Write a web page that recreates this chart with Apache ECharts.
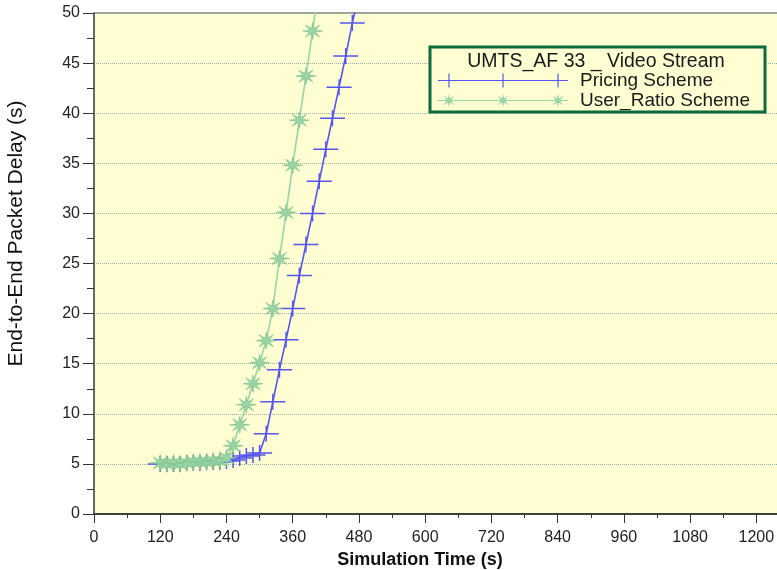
<!DOCTYPE html>
<html>
<head>
<meta charset="utf-8">
<script src="https://cdn.jsdelivr.net/npm/echarts@6/dist/echarts.min.js"></script>
<style>
  html, body { margin: 0; padding: 0; background: #ffffff; }
  #chart { width: 777px; height: 570px; }
</style>
</head>
<body>
<div id="chart"></div>
<script>
// Simulation time (s) and end-to-end packet delay (s) for each scheme
const pricingTime  = [120, 132, 144, 156, 168, 180, 192, 204, 216, 228, 240, 252, 264, 276, 288, 300, 312, 324, 336, 348, 360, 372, 384, 396, 408, 420, 432, 444, 456, 468, 480];
const pricingDelay = [5.0, 5.0, 5.0, 5.0, 5.1, 5.1, 5.1, 5.2, 5.2, 5.2, 5.3, 5.4, 5.6, 5.8, 5.9, 6.1, 8.0, 11.2, 14.4, 17.4, 20.5, 23.8, 26.9, 30.0, 33.2, 36.4, 39.5, 42.6, 45.7, 49.0, 52.0];

const userRatioTime  = [120, 132, 144, 156, 168, 180, 192, 204, 216, 228, 240, 252, 264, 276, 288, 300, 312, 324, 336, 348, 360, 372, 384, 396, 408];
const userRatioDelay = [5.1, 5.0, 5.1, 5.0, 5.1, 5.2, 5.2, 5.2, 5.3, 5.3, 5.6, 6.8, 8.9, 10.9, 13.0, 15.1, 17.3, 20.5, 25.5, 30.1, 34.8, 39.3, 43.7, 48.2, 52.7];

const seriesNames = ['Pricing Scheme', 'User_Ratio Scheme'];
const legendTitle = 'UMTS_AF 33 _ Video Stream';
const xAxisTitle = 'Simulation Time (s)';
const yAxisTitle = 'End-to-End Packet Delay (s)';
const xTickStep = 120;
const yTickStep = 5;

const FONT = '"Liberation Sans", Arial, sans-serif';
const BLUE = '#5656ee';
const GREEN = '#98d4a6';
const PLOT_BG = '#fffdd2';

// Plus marker: wide horizontal bar crossed by a shorter vertical bar
const plusPath = 'path://M0 7.25H25V8.75H0Z M11.75 0H13.25V16H11.75Z';

// Eight-pointed burst marker
function burst(cx, cy, rx, ry, inner) {
  let d = '';
  for (let i = 0; i < 16; i++) {
    const a = i * Math.PI / 8;
    const r = i % 2 === 0 ? 1 : inner;
    const x = cx + Math.cos(a) * rx * r;
    const y = cy + Math.sin(a) * ry * r;
    d += (i === 0 ? 'M' : 'L') + x.toFixed(2) + ' ' + y.toFixed(2);
  }
  return d + 'Z';
}
const burstPath = 'path://' + burst(10, 8.5, 10, 8.5, 0.32);

// Legend glyphs: a line with three markers on it
function legendPricingIcon() {
  let d = 'M0 6.4H130V7.6H0Z';
  [11, 65, 120].forEach(function (x) { d += 'M' + (x - 0.6) + ' 0H' + (x + 0.6) + 'V14H' + (x - 0.6) + 'Z'; });
  return 'path://' + d;
}
function legendRatioIcon() {
  let d = 'M0 6.5H130V7.5H0Z';
  [11, 65, 120].forEach(function (x) { d += burst(x, 7, 8, 7, 0.32); });
  return 'path://' + d;
}

function toPairs(xs, ys) { return xs.map(function (x, i) { return [x, ys[i]]; }); }

const chart = echarts.init(document.getElementById('chart'), null, { renderer: 'canvas' });

chart.setOption({
  animation: false,
  backgroundColor: '#ffffff',
  textStyle: { fontFamily: FONT },
  title: {
    text: legendTitle,
    left: 591,
    top: 47,
    textAlign: 'center',
    textStyle: { fontFamily: FONT, fontSize: 19.5, fontWeight: 'normal', color: '#1a1a1a' }
  },
  legend: {
    orient: 'vertical',
    left: 430,
    top: 47,
    padding: [24, 15, 2, 8],
    itemGap: 1,
    itemWidth: 130,
    itemHeight: 14,
    backgroundColor: PLOT_BG,
    borderColor: '#0c6b3c',
    borderWidth: 3,
    textStyle: { fontFamily: FONT, fontSize: 19, color: '#1a1a1a', padding: [0, 0, 0, 7] },
    itemStyle: { borderWidth: 0 },
    data: [
      { name: seriesNames[0], icon: legendPricingIcon() },
      { name: seriesNames[1], icon: legendRatioIcon() }
    ]
  },
  grid: {
    left: 94,
    top: 13,
    right: -2,
    bottom: 56,
    show: true,
    backgroundColor: PLOT_BG,
    borderColor: '#444444',
    borderWidth: 1,
    outerBoundsMode: 'none',
    containLabel: false
  },
  xAxis: {
    type: 'value',
    min: 0,
    max: 1241,
    interval: xTickStep,
    name: xAxisTitle,
    nameLocation: 'middle',
    nameGap: 30,
    nameTextStyle: { fontFamily: FONT, fontSize: 18, fontWeight: 'bold', color: '#111', padding: [0, 33, 0, 0] },
    axisLine: { lineStyle: { color: '#222', width: 1.5 } },
    axisTick: { length: 9, lineStyle: { color: '#333' } },
    minorTick: { show: true, splitNumber: 2, length: 4, lineStyle: { color: '#333' } },
    axisLabel: {
      margin: 16,
      fontSize: 16,
      color: '#222',
      fontFamily: FONT,
      formatter: function (v) { return v % xTickStep === 0 ? String(v) : ''; }
    },
    splitLine: { show: false }
  },
  yAxis: {
    type: 'value',
    min: 0,
    max: 50,
    interval: yTickStep,
    name: yAxisTitle,
    nameLocation: 'middle',
    nameGap: 67,
    nameTextStyle: { fontFamily: FONT, fontSize: 21, color: '#111', padding: [0, 0, 0, 60] },
    axisLine: { show: true, lineStyle: { color: '#555', width: 1.5 } },
    axisTick: { show: true, length: 11, lineStyle: { color: '#333' } },
    minorTick: { show: true, splitNumber: 2, length: 7, lineStyle: { color: '#333' } },
    axisLabel: { margin: 14, fontSize: 16, color: '#222', fontFamily: FONT },
    splitLine: { show: true, lineStyle: { type: 'dotted', color: '#93b3a0', width: 1 } }
  },
  series: [
    {
      name: seriesNames[0],
      type: 'line',
      data: toPairs(pricingTime, pricingDelay),
      symbol: plusPath,
      symbolSize: [25, 16],
      showAllSymbol: true,
      clip: true,
      lineStyle: { color: BLUE, width: 1.6 },
      itemStyle: { color: BLUE },
      z: 3
    },
    {
      name: seriesNames[1],
      type: 'line',
      data: toPairs(userRatioTime, userRatioDelay),
      symbol: burstPath,
      symbolSize: [20, 17],
      showAllSymbol: true,
      clip: true,
      lineStyle: { color: GREEN, width: 1.6 },
      itemStyle: { color: GREEN, borderColor: '#7cbf8c', borderWidth: 0.6 },
      z: 4
    }
  ]
});
</script>
</body>
</html>
